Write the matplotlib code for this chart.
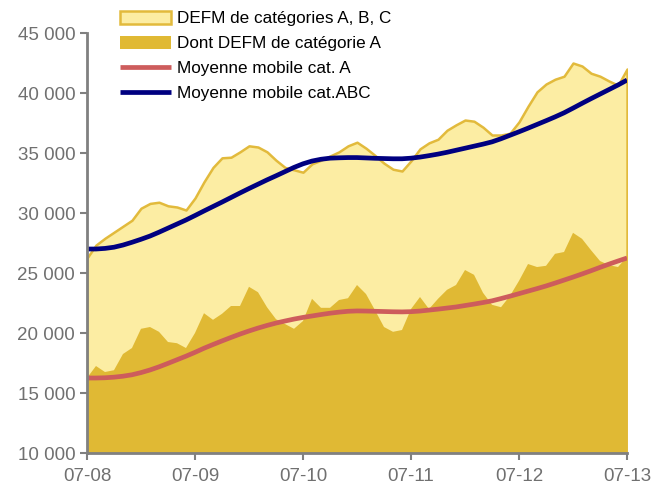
import matplotlib.pyplot as plt
import numpy as np

plt.rcParams['font.family'] = ['Liberation Sans', 'DejaVu Sans']

# monthly values, 2008-07 .. 2013-07 (61 months)
defm_abc = [26250, 27330, 27900, 28400, 28900, 29400, 30400, 30800, 30900, 30600,
            30500, 30250, 31250, 32600, 33800, 34600, 34650, 35100, 35600, 35500,
            35100, 34400, 33800, 33600, 33400, 34100, 34400, 34750, 35100, 35600,
            35900, 35400, 34800, 34150, 33650, 33500, 34350, 35350, 35850, 36150,
            36900, 37350, 37750, 37650, 37150, 36500, 36500, 36650, 37600, 38900,
            40100, 40750, 41150, 41400, 42500, 42250, 41650, 41400, 41000, 40650,
            42000]
defm_a = [16250, 17250, 16750, 16900, 18250, 18750, 20350, 20500, 20100, 19250,
          19150, 18750, 20000, 21650, 21100, 21600, 22250, 22250, 23850, 23400,
          22150, 21150, 20750, 20350, 21000, 22850, 22100, 22100, 22750, 22900,
          24000, 23250, 21900, 20500, 20100, 20250, 22000, 23000, 22000, 22850,
          23600, 24000, 25250, 24850, 23350, 22350, 22150, 23100, 24350, 25750,
          25500, 25600, 26600, 26750, 28350, 27850, 26900, 26000, 25650, 25500,
          26350]
mm_abc = [27000, 27000, 27050, 27150, 27330, 27560, 27810, 28080, 28400, 28740,
          29080, 29420, 29790, 30170, 30540, 30910, 31290, 31670, 32040, 32400,
          32760, 33100, 33450, 33800, 34100, 34330, 34480, 34570, 34600, 34620,
          34620, 34590, 34560, 34540, 34520, 34520, 34570, 34660, 34780, 34910,
          35060, 35230, 35400, 35570, 35740, 35930, 36190, 36480, 36770, 37070,
          37380, 37690, 38010, 38350, 38740, 39140, 39530, 39910, 40290, 40670,
          41080]
mm_a = [16250, 16250, 16270, 16320, 16400, 16520, 16700, 16920, 17180, 17470,
        17770, 18070, 18390, 18730, 19040, 19340, 19630, 19910, 20170, 20410,
        20630, 20830, 21000, 21160, 21300, 21420, 21540, 21650, 21740, 21810,
        21840, 21830, 21810, 21790, 21770, 21760, 21780, 21830, 21910, 21990,
        22080, 22170, 22290, 22410, 22540, 22680, 22870, 23070, 23280, 23490,
        23700, 23920, 24160, 24410, 24660, 24920, 25190, 25470, 25740, 26000,
        26250]

xlabels = ["07-08", "07-09", "07-10", "07-11", "07-12", "07-13"]
yticks = [10000, 15000, 20000, 25000, 30000, 35000, 40000, 45000]
ylabels = ["10 000", "15 000", "20 000", "25 000", "30 000", "35 000", "40 000", "45 000"]

x = np.arange(len(defm_abc))
gray = "#808080"

fig = plt.figure(figsize=(6.52, 4.87), dpi=100)
ax = fig.add_axes([0.1334, 0.0698, 0.8283, 0.8624])

ax.fill_between(x, 10000, defm_abc, facecolor="#FCEDA3", edgecolor="#E2BA3C",
                linewidth=1.8, label="DEFM de catégories A, B, C")
ax.fill_between(x, 10000, defm_a, facecolor="#E0B934", edgecolor="none",
                label="Dont DEFM de catégorie A")
ax.plot(x, mm_a, color="#CD5C5C", lw=3.4, label="Moyenne mobile cat. A",
        solid_capstyle="butt")
ax.plot(x, mm_abc, color="#000080", lw=3.4, label="Moyenne mobile cat.ABC",
        solid_capstyle="butt")

ax.set_xlim(0, len(x) - 1)
ax.set_ylim(10000, 45000)
ax.set_xticks(np.arange(0, len(x), 12))
ax.set_xticklabels(xlabels)
ax.set_yticks(yticks)
ax.set_yticklabels(ylabels)

for s in ["top", "right"]:
    ax.spines[s].set_visible(False)
for s in ["left", "bottom"]:
    ax.spines[s].set_color(gray)
    ax.spines[s].set_linewidth(2)
ax.tick_params(colors=gray, labelcolor="#707070", labelsize=13.5, width=1.5,
               length=5, direction="out")
ax.tick_params(axis="x", pad=6)

ax.legend(loc="upper left", bbox_to_anchor=(120 / 652, 1 - 11 / 487),
          bbox_transform=fig.transFigure, frameon=False, fontsize=12.3,
          handlelength=3.0, handleheight=0.8, labelspacing=0.55,
          handletextpad=0.35, borderpad=0, borderaxespad=0)

fig.savefig("out.png", dpi=100)
